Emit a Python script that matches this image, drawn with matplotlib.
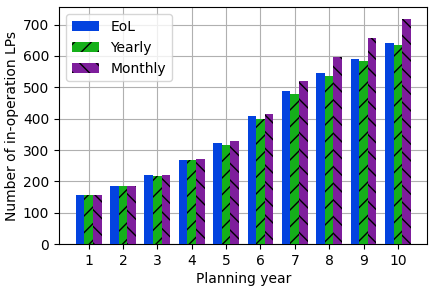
import matplotlib.pyplot as plt
import numpy as np

years = [1, 2, 3, 4, 5, 6, 7, 8, 9, 10]
eol = [157, 186, 220, 267, 322, 407, 489, 546, 591, 642]
yearly = [157, 186, 216, 267, 316, 398, 479, 537, 585, 636]
monthly = [157, 186, 220, 273, 328, 414, 521, 598, 658, 719]

plt.rcParams['hatch.linewidth'] = 1.0
fig, ax = plt.subplots(figsize=(4.34, 2.9), dpi=100)

x = np.array(years)
w = 0.25
ax.bar(x - w, eol, w, color='#0343df', label='EoL', zorder=3)
ax.bar(x, yearly, w, color='#15b01a', hatch='//', label='Yearly', zorder=3)
ax.bar(x + w, monthly, w, color='#7e1e9c', hatch='\\\\', label='Monthly', zorder=3)

ax.set_xticks(x)
ax.set_xlabel('Planning year', fontsize=10, labelpad=3)
ax.set_ylabel('Number of in-operation LPs', fontsize=10, labelpad=3)
ax.tick_params(labelsize=10)
ax.set_ylim(0, 755)
ax.grid(True, color='#b0b0b0', zorder=0)
ax.set_axisbelow(True)
ax.legend(loc='upper left', fontsize=10)

plt.subplots_adjust(left=0.136, right=0.985, top=0.975, bottom=0.158)
fig.savefig('out.png')
